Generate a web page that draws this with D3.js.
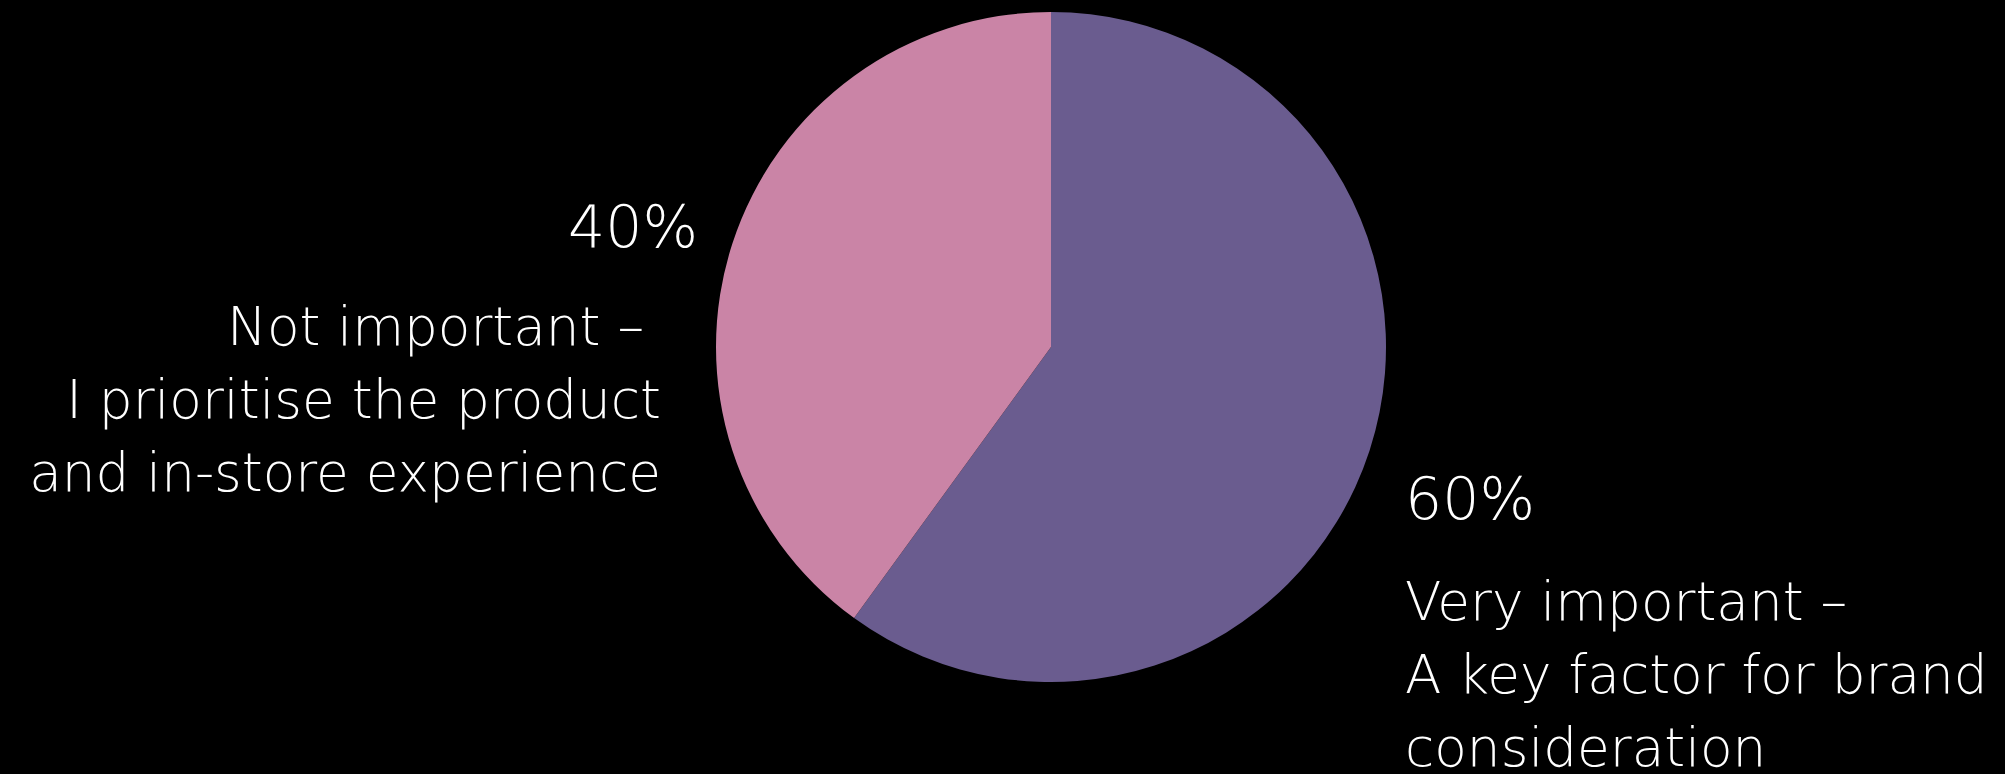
<!DOCTYPE html>
<html>
<head>
<meta charset="utf-8">
<script src="https://cdn.jsdelivr.net/npm/d3@7"></script>
<style>
  html, body { margin: 0; padding: 0; background: #000; }
  svg { display: block; }
  text { font-family: "DejaVu Sans", "Open Sans", sans-serif; font-weight: 200; fill: #fff; }
</style>
</head>
<body>
<svg id="chart" width="2005" height="774"></svg>
<script>
var categories = ['Very important', 'Not important'];
var values = [60, 40];
var percentLabels = ['60%', '40%'];
var labelLines = [
    ['Very important \u2013', 'A key factor for brand', 'consideration'],
    ['Not important \u2013 ', 'I prioritise the product', 'and in-store experience']
];
var colors = ['#6a5c8f', '#ca84a6'];

var svg = d3.select('#chart'),
    width = +svg.attr('width'),
    height = +svg.attr('height');

var cx = 1051, cy = 347, radius = 335;

var g = svg.append('g').attr('transform', 'translate(' + cx + ',' + cy + ')');

var color = d3.scaleOrdinal().domain(categories).range(colors);

var pie = d3.pie().sort(null).value(function(d) { return d; });
var arc = d3.arc().innerRadius(0).outerRadius(radius);

g.selectAll('path')
    .data(pie(values))
    .enter()
    .append('path')
    .attr('fill', function(d, i) { return color(categories[i]); })
    .attr('d', arc);

// pick font sizes so the widest line comes out about as wide as in the original
function fitSize(str, targetW) {
    var probe = svg.append('text').style('font-size', '100px').text(str);
    var w = probe.node().getComputedTextLength();
    probe.remove();
    return 100 * targetW / w;
}
var labelFont = fitSize('I prioritise the product', 595);
var pctFont = fitSize('40%', 130);
var lineGap = 73;

// label blocks: right one for slice 0, left one for slice 1
var blocks = [
    { x: 1405, pctY: 519, firstY: 620, anchor: 'start' },
    { x: 698, pctY: 247, firstY: 345, anchor: 'end', lineX: 661 }
];

blocks.forEach(function(b, i) {
    svg.append('text')
        .attr('x', b.x)
        .attr('y', b.pctY)
        .attr('text-anchor', b.anchor)
        .style('font-size', pctFont + 'px')
        .text(percentLabels[i]);

    var t = svg.append('text')
        .attr('text-anchor', b.anchor)
        .style('font-size', labelFont + 'px')
        .style('white-space', 'pre');

    labelLines[i].forEach(function(line, j) {
        t.append('tspan')
            .attr('x', b.lineX || b.x)
            .attr('y', b.firstY + j * lineGap)
            .text(line);
    });
});
</script>
</body>
</html>
